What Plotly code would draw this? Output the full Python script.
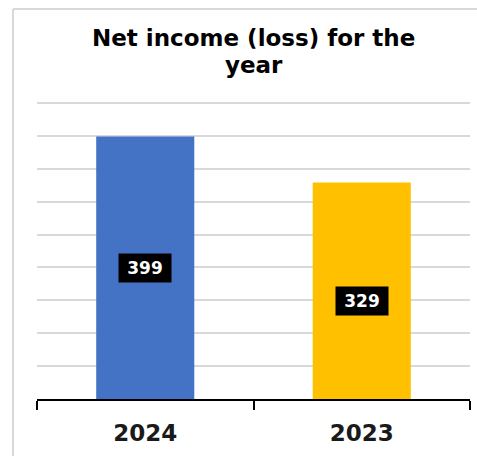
import plotly.graph_objects as go

# ---- data ----
categories = ["2024", "2023"]
values = [399, 329]
value_labels = ["399", "329"]
bar_colors = ["#4472C4", "#FFC000"]
title_lines = ["Net income (loss) for the", "year"]

# ---- layout constants ----
W, H = 477, 456
ML, MR, MT, MB = 37, 7, 96, 57
Y_MAX = 460.6
label_y = [199.5, 149]      # vertical positions of data-label boxes (axis units)
title_px = [38.5, 65]       # pixel centres of the two title lines
FONT = "DejaVu Sans"

pw = W - ML - MR
ph = H - MT - MB

fig = go.Figure()
fig.add_trace(go.Bar(
    x=categories, y=values,
    marker=dict(color=bar_colors, line=dict(width=0)),
    width=0.453,
    hoverinfo="skip",
))

for i, (ly, t) in enumerate(zip(label_y, value_labels)):
    fig.add_annotation(
        x=i, y=ly, xref="x", yref="y", text="<b>" + t + "</b>",
        showarrow=False, bgcolor="black", borderpad=4, width=44, height=20,
        font=dict(family=FONT, size=17, color="white"),
    )

for line, py in zip(title_lines, title_px):
    fig.add_annotation(
        x=0.5, xref="paper", xanchor="center",
        y=(H - MB - py) / ph, yref="paper", yanchor="middle",
        text="<b>" + line + "</b>", showarrow=False,
        height=26, borderpad=0, valign="middle",
        font=dict(family=FONT, size=23, color="black"),
    )

# chart-area frame (left and top edges)
fx = (13 - ML) / pw
fy_top = (H - MB - 9) / ph
fy_bot = -MB / ph
fx_right = (W - ML) / pw
fig.add_shape(type="line", xref="paper", yref="paper", x0=fx, x1=fx, y0=fy_bot, y1=fy_top,
              line=dict(color="#d9d9d9", width=2))
fig.add_shape(type="line", xref="paper", yref="paper", x0=fx, x1=fx_right, y0=fy_top, y1=fy_top,
              line=dict(color="#d9d9d9", width=2))

fig.update_layout(
    width=W, height=H,
    margin=dict(l=ML, r=MR, t=MT, b=MB),
    paper_bgcolor="white", plot_bgcolor="white",
    showlegend=False,
    xaxis=dict(
        type="category", categoryorder="array", categoryarray=categories,
        range=[-0.5, len(categories) - 0.5], autorange=False,
        automargin=False, tickangle=0,
        showline=True, linecolor="black", linewidth=2,
        ticks="outside", tickson="boundaries", ticklen=9, tickwidth=2, tickcolor="black",
        ticklabelstandoff=12,
        tickfont=dict(family=FONT, size=23, color="#1a1a1a", weight="bold"),
        showgrid=False, fixedrange=True,
    ),
    yaxis=dict(
        range=[0, Y_MAX], autorange=False, dtick=50, showticklabels=False, automargin=False,
        showgrid=True, gridcolor="#d9d9d9", gridwidth=1.5,
        zeroline=False, showline=False, fixedrange=True,
    ),
)

fig.write_html("out.html")
